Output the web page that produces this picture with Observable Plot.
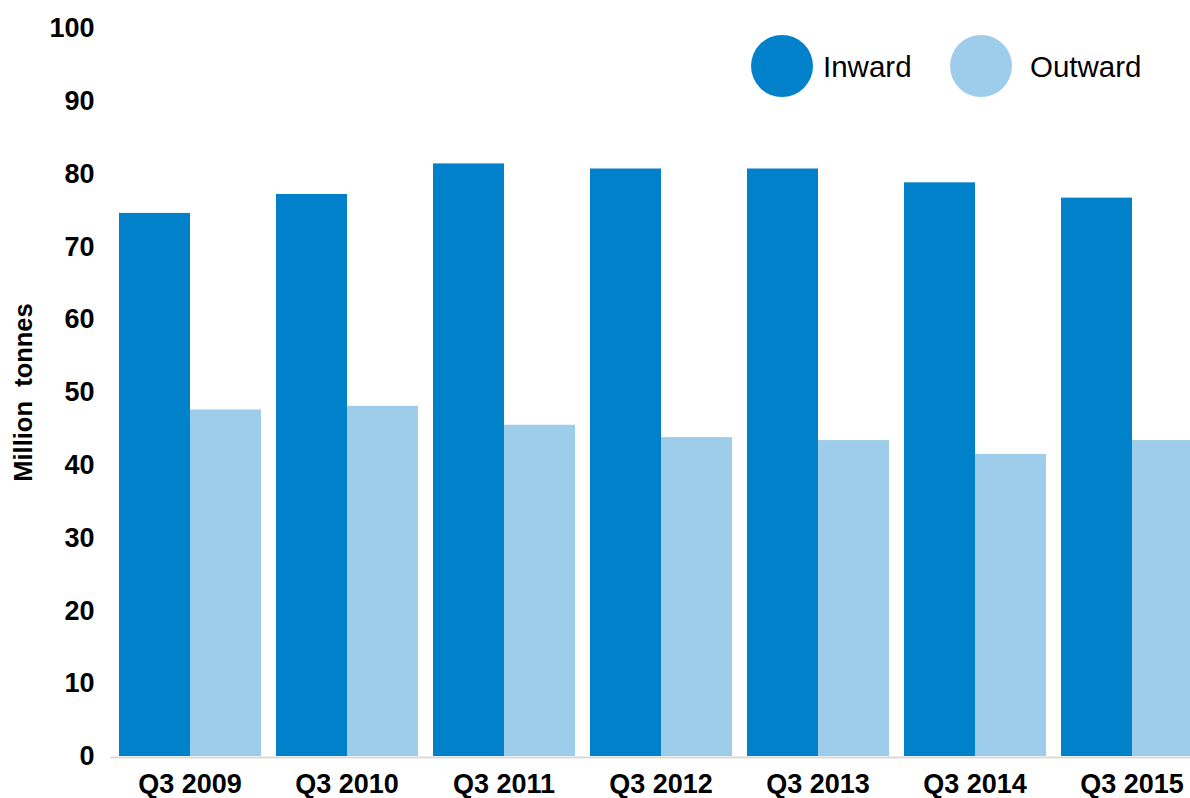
<!DOCTYPE html>
<html><head><meta charset="utf-8">
<script src="https://cdn.jsdelivr.net/npm/d3@7"></script>
<script src="https://cdn.jsdelivr.net/npm/@observablehq/plot@0.6"></script>
<style>
html,body{margin:0;padding:0;background:#fff;overflow:hidden;width:1190px;height:798px}
#wrap{position:relative;width:1190px;height:798px;overflow:hidden}
#chart svg{max-width:none !important;}
.lg{position:absolute;font-family:"Liberation Sans",Arial,sans-serif;font-size:29.5px;color:#000;line-height:1}
.sw{position:absolute;width:62px;height:62px;border-radius:50%}
</style></head><body><div id="wrap"><div id="chart"></div><div id="legend"></div></div>
<script>
const periods = ["Q3 2009","Q3 2010","Q3 2011","Q3 2012","Q3 2013","Q3 2014","Q3 2015"];
const inward  = [74.6, 77.2, 81.4, 80.7, 80.7, 78.8, 76.7];
const outward = [47.6, 48.1, 45.5, 43.8, 43.4, 41.5, 43.4];
const seriesNames = ["Inward","Outward"];
const seriesColors = ["#0081CA","#9DCDEA"];
const yTicks = [0,10,20,30,40,50,60,70,80,90,100];

const data = periods.flatMap((p,i)=>[
  {period:p, series:seriesNames[0], value:inward[i]},
  {period:p, series:seriesNames[1], value:outward[i]}
]);

const chart = Plot.plot({
  width:1210, height:798,
  marginLeft:111, marginRight:0, marginTop:28, marginBottom:42,
  style:{fontFamily:'"Liberation Sans", Arial, sans-serif', fontWeight:"bold", fontSize:"27px", color:"#000", background:"#fff", overflow:"visible", maxWidth:"none"},
  fx:{domain:periods, paddingInner:0.09, paddingOuter:0.045, label:null, axis:"bottom", tickSize:0, tickPadding:17},
  x:{domain:seriesNames, axis:null, padding:0},
  y:{domain:[0,100], ticks:yTicks, tickSize:0, tickPadding:24, label:"Million  tonnes", labelArrow:"none", labelAnchor:"center", labelOffset:105},
  color:{domain:seriesNames, range:seriesColors},
  marks:[
    Plot.barY(data,{fx:"period", x:"series", y:"value", fill:"series"}),
    Plot.ruleY([0],{stroke:"#d9d9d9", strokeWidth:2, dy:1, insetLeft:-7.5, insetRight:-7.5})
  ]
});
chart.style.maxWidth = "none";
document.getElementById("chart").appendChild(chart);
// axis title: keep the double space, slightly smaller type
chart.querySelectorAll("text").forEach(t=>{
  if (t.textContent.includes("Million")) {
    t.setAttribute("xml:space","preserve");
    t.style.whiteSpace="pre";
    t.style.fontSize="25.5px";
  }
});

// legend
const lg = document.getElementById("legend");
const swLeft = [751, 950];
const txLeft = [823, 1030];
seriesNames.forEach((s,i)=>{
  const c = document.createElement("div");
  c.className="sw"; c.style.left=swLeft[i]+"px"; c.style.top="35px"; c.style.background=seriesColors[i];
  lg.appendChild(c);
  const t = document.createElement("div");
  t.className="lg"; t.textContent=s; t.style.left=txLeft[i]+"px"; t.style.top="52px";
  lg.appendChild(t);
});
</script></body></html>
